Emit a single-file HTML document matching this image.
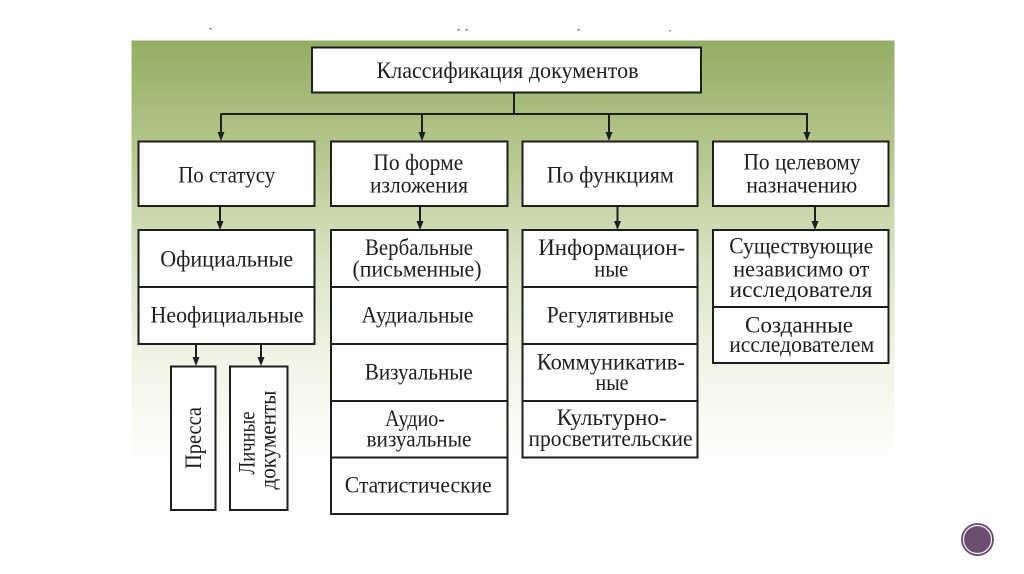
<!DOCTYPE html>
<html><head><meta charset="utf-8"><style>
html,body{margin:0;padding:0;background:#fff;width:1024px;height:574px;overflow:hidden}
svg{display:block}
text{font-family:"Liberation Serif",serif;font-size:23px;fill:#1e1e1e}
</style></head><body>
<svg width="1024" height="574" viewBox="0 0 1024 574" xmlns="http://www.w3.org/2000/svg">
<defs>
<linearGradient id="g" x1="0" y1="0" x2="0" y2="1">
<stop offset="0" stop-color="#93ad64"/>
<stop offset="0.28" stop-color="#b9c991"/>
<stop offset="0.52" stop-color="#dbe4c6"/>
<stop offset="0.76" stop-color="#f2f5e8"/>
<stop offset="1" stop-color="#ffffff"/>
</linearGradient>
</defs>
<rect x="131.5" y="40.5" width="763" height="430" fill="url(#g)"/>
<g fill="#999">
<rect x="209" y="28" width="3" height="1.5"/>
<rect x="457" y="29" width="3" height="1.5"/>
<rect x="465" y="29" width="3" height="1.5"/>
<rect x="577" y="29" width="3" height="1.5"/>
<rect x="669" y="30" width="2" height="1.5"/>
</g>

<g fill="#fff" stroke="#1e1e1e" stroke-width="2">
<rect x="312" y="47.5" width="389" height="45"/>
<rect x="138.5" y="141.5" width="176" height="64.5"/>
<rect x="331" y="141.5" width="176.5" height="64.5"/>
<rect x="522.5" y="141.5" width="175" height="64.5"/>
<rect x="713" y="141.5" width="175.5" height="64.5"/>
<rect x="138.5" y="230" width="176" height="114"/>
<rect x="331" y="230" width="176.5" height="284"/>
<rect x="522.5" y="230" width="175" height="227.5"/>
<rect x="713" y="230" width="175.5" height="133"/>
<rect x="171" y="366.5" width="44.5" height="143.5"/>
<rect x="230" y="366.5" width="57.5" height="143.5"/>
</g>
<g stroke="#1e1e1e" stroke-width="2" fill="none">
<line x1="138.5" y1="287" x2="314.5" y2="287"/>
<line x1="331" y1="287" x2="507.5" y2="287"/>
<line x1="331" y1="344" x2="507.5" y2="344"/>
<line x1="331" y1="401" x2="507.5" y2="401"/>
<line x1="331" y1="457.5" x2="507.5" y2="457.5"/>
<line x1="522.5" y1="287" x2="697.5" y2="287"/>
<line x1="522.5" y1="344" x2="697.5" y2="344"/>
<line x1="522.5" y1="401" x2="697.5" y2="401"/>
<line x1="713" y1="307" x2="888.5" y2="307"/>
<line x1="514" y1="92.5" x2="514" y2="114"/>
<line x1="220.5" y1="114" x2="807" y2="114"/>
<line x1="221" y1="114" x2="221" y2="134"/>
<line x1="422" y1="114" x2="422" y2="134"/>
<line x1="609" y1="114" x2="609" y2="134"/>
<line x1="807" y1="113" x2="807" y2="134"/>
<line x1="220" y1="206" x2="220" y2="223"/>
<line x1="420" y1="206" x2="420" y2="223"/>
<line x1="617.5" y1="206" x2="617.5" y2="223"/>
<line x1="815" y1="206" x2="815" y2="223"/>
<line x1="196" y1="344" x2="196" y2="359"/>
<line x1="261" y1="344" x2="261" y2="359"/>
</g>
<g fill="#1e1e1e">
<polygon points="217.5,132 224.5,132 221,141"/>
<polygon points="418.5,132 425.5,132 422,141"/>
<polygon points="605.5,132 612.5,132 609,141"/>
<polygon points="803.5,132 810.5,132 807,141"/>
<polygon points="216.5,221 223.5,221 220,230"/>
<polygon points="416.5,221 423.5,221 420,230"/>
<polygon points="614,221 621,221 617.5,230"/>
<polygon points="811.5,221 818.5,221 815,230"/>
<polygon points="192.5,357 199.5,357 196,366"/>
<polygon points="257.5,357 264.5,357 261,366"/>
</g>

<g text-anchor="middle">
<text x="507.5" y="78" textLength="262" lengthAdjust="spacingAndGlyphs">Классификация документов</text>
<text x="226.7" y="182.5" textLength="97" lengthAdjust="spacingAndGlyphs">По статусу</text>
<text x="418.3" y="170" textLength="90" lengthAdjust="spacingAndGlyphs">По форме</text>
<text x="419" y="192.5" textLength="98" lengthAdjust="spacingAndGlyphs">изложения</text>
<text x="610.3" y="182.5" textLength="127" lengthAdjust="spacingAndGlyphs">По функциям</text>
<text x="802" y="169.5" textLength="117" lengthAdjust="spacingAndGlyphs">По целевому</text>
<text x="801.7" y="192.5" textLength="111" lengthAdjust="spacingAndGlyphs">назначению</text>

<text x="226.7" y="266.5" textLength="133" lengthAdjust="spacingAndGlyphs">Официальные</text>
<text x="227" y="322.5" textLength="153" lengthAdjust="spacingAndGlyphs">Неофициальные</text>

<text x="419" y="255" textLength="108" lengthAdjust="spacingAndGlyphs">Вербальные</text>
<text x="417" y="276.5" textLength="129" lengthAdjust="spacingAndGlyphs">(письменные)</text>
<text x="417.5" y="322.5" textLength="112" lengthAdjust="spacingAndGlyphs">Аудиальные</text>
<text x="418.8" y="379.5" textLength="108" lengthAdjust="spacingAndGlyphs">Визуальные</text>
<text x="415" y="426" textLength="60" lengthAdjust="spacingAndGlyphs">Аудио-</text>
<text x="419" y="446.5" textLength="105" lengthAdjust="spacingAndGlyphs">визуальные</text>
<text x="418.3" y="492.5" textLength="147" lengthAdjust="spacingAndGlyphs">Статистические</text>

<text x="611.7" y="255" textLength="147" lengthAdjust="spacingAndGlyphs">Информацион-</text>
<text x="611.3" y="276.5" textLength="34" lengthAdjust="spacingAndGlyphs">ные</text>
<text x="610.3" y="322.5" textLength="127" lengthAdjust="spacingAndGlyphs">Регулятивные</text>
<text x="610.8" y="369.5" textLength="148" lengthAdjust="spacingAndGlyphs">Коммуникатив-</text>
<text x="612" y="390" textLength="33" lengthAdjust="spacingAndGlyphs">ные</text>
<text x="611.7" y="425" textLength="110" lengthAdjust="spacingAndGlyphs">Культурно-</text>
<text x="610.5" y="446" textLength="164" lengthAdjust="spacingAndGlyphs">просветительские</text>

<text x="801.3" y="253.5" textLength="144" lengthAdjust="spacingAndGlyphs">Существующие</text>
<text x="801.3" y="276.5" textLength="136" lengthAdjust="spacingAndGlyphs">независимо от</text>
<text x="801" y="297" textLength="143" lengthAdjust="spacingAndGlyphs">исследователя</text>
<text x="799" y="332.5" textLength="108" lengthAdjust="spacingAndGlyphs">Созданные</text>
<text x="801.7" y="352" textLength="145" lengthAdjust="spacingAndGlyphs">исследователем</text>

<text transform="translate(201,438) rotate(-90)" textLength="62" lengthAdjust="spacingAndGlyphs">Пресса</text>
<text transform="translate(254.5,443) rotate(-90)" textLength="63" lengthAdjust="spacingAndGlyphs">Личные</text>
<text transform="translate(275.5,440) rotate(-90)" textLength="99" lengthAdjust="spacingAndGlyphs">документы</text>
</g>

<circle cx="977.5" cy="539.5" r="16.5" fill="#6a4f6e"/>
<circle cx="977.5" cy="539.5" r="14" fill="none" stroke="#f2eef3" stroke-width="1.2"/>
</svg>
</body></html>
